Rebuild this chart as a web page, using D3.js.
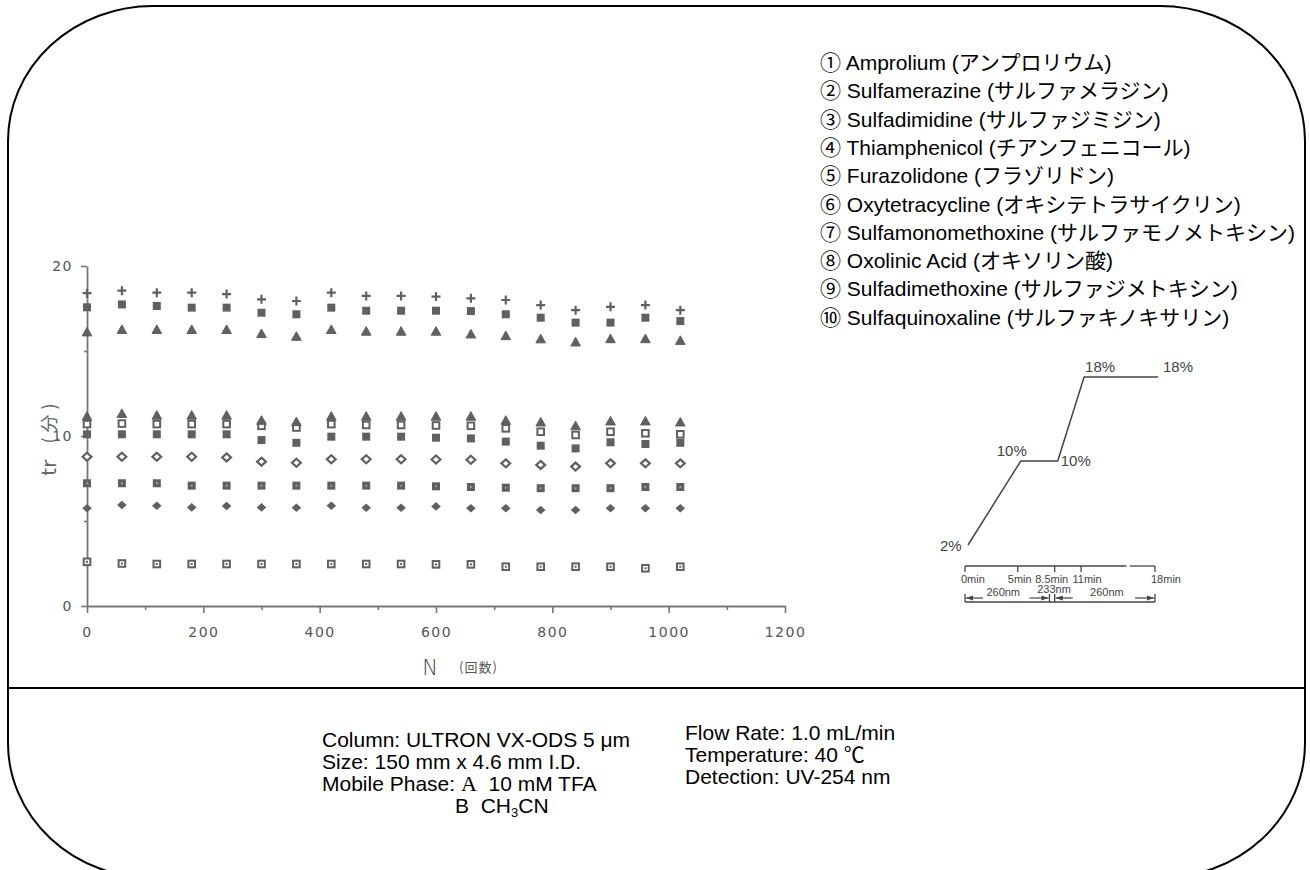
<!DOCTYPE html>
<html><head><meta charset="utf-8">
<script src="https://cdn.jsdelivr.net/npm/d3@7"></script>
<style>body{margin:0;background:#fff}</style>
</head><body>
<svg id="c" width="1310" height="870"></svg>
<script>
// ---------------- data ----------------
const runs = [0,60,120,180,240,300,360,420,480,540,600,660,720,780,840,900,960,1020];
const compounds = ["① Amprolium (アンプロリウム)","② Sulfamerazine (サルファメラジン)","③ Sulfadimidine (サルファジミジン)","④ Thiamphenicol (チアンフェニコール)","⑤ Furazolidone (フラゾリドン)","⑥ Oxytetracycline (オキシテトラサイクリン)","⑦ Sulfamonomethoxine (サルファモノメトキシン)","⑧ Oxolinic Acid (オキソリン酸)","⑨ Sulfadimethoxine (サルファジメトキシン)","⑩ Sulfaquinoxaline (サルファキノキサリン)"];
const amprolium        = [2.6,2.5,2.47,2.47,2.47,2.47,2.47,2.47,2.47,2.47,2.45,2.45,2.31,2.31,2.31,2.31,2.22,2.31];
const sulfamerazine    = [5.75,5.94,5.9,5.8,5.88,5.8,5.78,5.9,5.78,5.78,5.86,5.75,5.75,5.65,5.65,5.75,5.75,5.75];
const sulfadimidine    = [7.22,7.22,7.22,7.08,7.08,7.08,7.08,7.08,7.08,7.08,7.04,7.0,6.96,6.93,6.93,6.93,7.0,7.0];
const thiamphenicol    = [8.78,8.78,8.78,8.78,8.74,8.49,8.43,8.63,8.63,8.63,8.62,8.6,8.39,8.3,8.2,8.39,8.39,8.39];
const furazolidone     = [10.1,10.1,10.1,10.1,10.1,9.76,9.6,9.96,9.96,9.96,9.9,9.86,9.67,9.43,9.27,9.63,9.53,9.6];
const oxytetracycline  = [10.7,10.73,10.7,10.7,10.7,10.6,10.5,10.7,10.65,10.65,10.62,10.6,10.45,10.25,10.06,10.25,10.16,10.1];
const sulfamonometh    = [11.14,11.3,11.2,11.2,11.2,10.9,10.82,11.14,11.14,11.14,11.14,11.14,10.9,10.8,10.58,10.86,10.86,10.8];
const oxolinicAcid     = [16.1,16.24,16.24,16.24,16.24,16.0,15.84,16.24,16.14,16.14,16.14,15.98,15.88,15.69,15.51,15.7,15.7,15.6];
const sulfadimethoxine = [17.57,17.74,17.65,17.55,17.55,17.25,17.16,17.55,17.37,17.37,17.37,17.35,17.16,16.96,16.67,16.67,16.96,16.76];
const sulfaquinoxaline = [18.4,18.55,18.43,18.43,18.35,18.04,17.94,18.43,18.24,18.24,18.2,18.1,18.0,17.7,17.4,17.6,17.7,17.4];
const seriesValues = [amprolium,sulfamerazine,sulfadimidine,thiamphenicol,furazolidone,oxytetracycline,sulfamonometh,oxolinicAcid,sulfadimethoxine,sulfaquinoxaline];
const xTicks = [0,200,400,600,800,1000,1200];
const xMinor = [100,300,500,700,900,1100];
const yTicks = [0,10,20];
const yMinor = [5,15];
// gradient program
const gradTime = [0,5,8.5,11,18];
const gradPct  = [2,10,10,18,18];
const gradLabels = ["2%","10%","10%","18%","18%"];
const timeTicks = [0,5,8.5,11,18];
const timeLabels = ["0min","5min","8.5min","11min","18min"];
const waveSegments = [[0,8], [8.5,18]];
const waveLabels = ["260nm","233nm","260nm"];
const conditionsLeft = ["Column: ULTRON VX-ODS 5 μm","Size: 150 mm x 4.6 mm I.D."];
const conditionsRight = ["Flow Rate: 1.0 mL/min","Temperature: 40 ℃","Detection: UV-254 nm"];

// ---------------- drawing ----------------
const svg = d3.select("#c");
const INK = "#606060", AX = "#777";
const sans = "'Liberation Sans', Arial, 'Noto Sans CJK JP', sans-serif";

// frame
(function(){
  const x0=8,y0=6,x1=1305,y1=878,rx=145,ry=135;
  const p = `M${x0+rx},${y0}H${x1-rx}A${rx},${ry} 0 0 1 ${x1},${y0+ry}V${y1-ry}A${rx},${ry} 0 0 1 ${x1-rx},${y1}H${x0+rx}A${rx},${ry} 0 0 1 ${x0},${y1-ry}V${y0+ry}A${rx},${ry} 0 0 1 ${x0+rx},${y0}Z`;
  svg.append("path").attr("d",p).attr("fill","none").attr("stroke","#000").attr("stroke-width",2);
  svg.append("line").attr("x1",x0).attr("x2",x1).attr("y1",688).attr("y2",688).attr("stroke","#000").attr("stroke-width",2);
})();

const x = d3.scaleLinear().domain([0,1200]).range([87,785]);
const y = d3.scaleLinear().domain([0,20]).range([606,266]);

function styleAxis(g){
  g.selectAll("path.domain").attr("stroke",AX).attr("stroke-width",1.8);
  g.selectAll(".tick line").attr("stroke",AX).attr("stroke-width",1.6);
  g.selectAll(".tick text").attr("fill","#555").attr("font-family","'DejaVu Sans', sans-serif").attr("font-size",14).attr("letter-spacing",1.5);
}
const gx = svg.append("g").attr("transform","translate(0,606)")
  .call(d3.axisBottom(x).tickValues(xTicks).tickSize(7).tickSizeOuter(0).tickPadding(14).tickFormat(d3.format("d")));
styleAxis(gx);
const gxm = svg.append("g").attr("transform","translate(0,606)")
  .call(d3.axisBottom(x).tickValues(xMinor).tickSize(4).tickFormat(""));
gxm.select("path.domain").remove(); styleAxis(gxm);
const gy = svg.append("g").attr("transform","translate(87,0)")
  .call(d3.axisLeft(y).tickValues(yTicks).tickSize(6).tickSizeOuter(0).tickPadding(8));
styleAxis(gy);
const gym = svg.append("g").attr("transform","translate(87,0)")
  .call(d3.axisLeft(y).tickValues(yMinor).tickSize(3).tickFormat(""));
gym.select("path.domain").remove(); styleAxis(gym);

// axis titles
svg.append("text").attr("x",430).attr("y",675).attr("text-anchor","middle")
  .attr("font-family","'DejaVu Sans', sans-serif").attr("font-weight",300).attr("font-size",21).attr("fill","#444").text("N");
svg.append("text").attr("x",459).attr("y",672)
  .attr("font-family","'Noto Sans CJK JP', sans-serif").attr("font-size",13).attr("letter-spacing",1).attr("fill","#555").text("(回数)");
const yt = svg.append("text").attr("transform","translate(56,437) rotate(-90)").attr("text-anchor","middle")
  .attr("font-family","'DejaVu Sans', 'Noto Sans CJK JP', sans-serif").attr("fill","#666");
yt.append("tspan").attr("font-size",20).text("tr");
yt.append("tspan").attr("dx",16).attr("font-size",18).attr("font-family","'Noto Sans CJK JP', sans-serif").attr("letter-spacing",5).text("(分)");

// markers
const kinds = ["dotsquare","fdiamond","dsquare","odiamond","fsquare","osquare","ftri","ftri","fsquare","plus"];
function marker(g, kind){
  switch(kind){
    case "plus": g.append("path").attr("d","M-4.5,0H4.5M0,-4.5V4.5").attr("stroke",INK).attr("stroke-width",2.2).attr("fill","none"); break;
    case "fsquare": g.append("rect").attr("x",-4).attr("y",-4).attr("width",8).attr("height",8).attr("fill",INK); break;
    case "ftri": g.append("path").attr("d","M0,-5L4.8,3.6H-4.8Z").attr("fill",INK).attr("stroke",INK).attr("stroke-width",1); break;
    case "osquare": g.append("rect").attr("x",-3.3).attr("y",-3.3).attr("width",6.6).attr("height",6.6).attr("fill","#fff").attr("stroke",INK).attr("stroke-width",2); break;
    case "odiamond": g.append("path").attr("d","M0,-4L4.4,0L0,4L-4.4,0Z").attr("fill","#fff").attr("stroke",INK).attr("stroke-width",2.2); break;
    case "fdiamond": g.append("path").attr("d","M0,-4.3L4.8,0L0,4.3L-4.8,0Z").attr("fill",INK); break;
    case "dsquare":
      g.append("rect").attr("x",-4).attr("y",-4).attr("width",8).attr("height",8).attr("fill",INK);
      g.append("circle").attr("r",1).attr("fill","#aaa"); break;
    case "dotsquare":
      g.append("rect").attr("x",-3.3).attr("y",-3.3).attr("width",6.6).attr("height",6.6).attr("fill","#fff").attr("stroke",INK).attr("stroke-width",2);
      g.append("rect").attr("x",-1).attr("y",-1).attr("width",2).attr("height",2).attr("fill",INK); break;
  }
}
const plot = svg.append("g");
seriesValues.forEach((vals,i)=>{
  const sg = plot.append("g").attr("class","series-"+i);
  vals.forEach((v,j)=>{
    const m = sg.append("g").attr("transform",`translate(${x(runs[j])},${y(v)})`);
    marker(m, kinds[i]);
  });
});

// legend (compound list)
svg.append("g").selectAll("text").data(compounds).join("text")
  .attr("x",820).attr("y",(d,i)=>70+i*28.3)
  .attr("font-family",sans).attr("font-size",21).attr("fill","#000").text(d=>d);

// gradient inset
const tS = d3.scaleLinear().domain([0,18]).range([965,1155]);
const pS = d3.scaleLinear().domain([2,18]).range([545,377]);
const GI = "#444";
svg.append("path").attr("d", d3.line().x((d,i)=>tS(gradTime[i])+3).y(d=>pS(d))(gradPct))
  .attr("fill","none").attr("stroke",GI).attr("stroke-width",1.5);
const gl = [[-28,6],[-24,-5],[3,5],[1,-5],[5,-5]];
svg.append("g").selectAll("text").data(gradLabels).join("text")
  .attr("x",(d,i)=>tS(gradTime[i])+3+gl[i][0]).attr("y",(d,i)=>pS(gradPct[i])+gl[i][1])
  .attr("font-family",sans).attr("font-size",15).attr("fill",GI).text(d=>d);
// time axis
const ta = svg.append("g").attr("transform","translate(0,566)");
ta.append("line").attr("x1",tS(0)).attr("x2",tS(15.3)).attr("stroke",GI).attr("stroke-width",1.3);
ta.append("line").attr("x1",tS(15.6)).attr("x2",tS(18)).attr("stroke",GI).attr("stroke-width",1.3);
ta.selectAll("line.tk").data(timeTicks).join("line").attr("class","tk")
  .attr("x1",d=>tS(d)).attr("x2",d=>tS(d)).attr("y1",0).attr("y2",6).attr("stroke",GI).attr("stroke-width",1.3);
const tAnchor = ["start","middle","middle","middle","start"];
const tOff = [-4,2,-3,6,-4];
ta.selectAll("text").data(timeLabels).join("text")
  .attr("x",(d,i)=>tS(timeTicks[i])+tOff[i]).attr("y",17).attr("text-anchor",(d,i)=>tAnchor[i])
  .attr("font-family",sans).attr("font-size",11).attr("fill",GI).text(d=>d);
// wavelength brackets
const wa = svg.append("g");
wa.append("line").attr("x1",tS(0)).attr("x2",tS(18)).attr("y1",602).attr("y2",602).attr("stroke",GI).attr("stroke-width",1.3);
[0,8,8.5,18].forEach(t=>wa.append("line").attr("x1",tS(t)).attr("x2",tS(t)).attr("y1",594).attr("y2",602).attr("stroke",GI).attr("stroke-width",1.3));
function arrow(xa, xb){ // line from xa to xb with head at xb
  const dir = xb > xa ? 1 : -1;
  wa.append("line").attr("x1",xa).attr("x2",xb).attr("y1",598).attr("y2",598).attr("stroke",GI).attr("stroke-width",1.2);
  wa.append("path").attr("d",`M${xb},598L${xb-dir*7},595.5L${xb-dir*7},600.5Z`).attr("fill",GI);
}
waveSegments.forEach(([a,b])=>{
  arrow(tS(a)+18, tS(a)+1);
  arrow(tS(b)-20, tS(b)-1);
});
const wx = [(tS(0)+tS(8))/2-4, (tS(8)+tS(8.5))/2+2, (tS(8.5)+tS(18))/2+2];
const wy = [596, 593, 596];
wa.selectAll("text").data(waveLabels).join("text")
  .attr("x",(d,i)=>wx[i]).attr("y",(d,i)=>wy[i]).attr("text-anchor","middle")
  .attr("font-family",sans).attr("font-size",11).attr("fill",GI).text(d=>d);

// conditions text
const cf = {family: sans, size: 21};
svg.append("g").selectAll("text").data(conditionsLeft).join("text")
  .attr("x",322).attr("y",(d,i)=>747+i*22).attr("font-family",cf.family).attr("font-size",cf.size).text(d=>d);
const mp = svg.append("text").attr("x",322).attr("y",791).attr("font-family",cf.family).attr("font-size",cf.size);
mp.append("tspan").text("Mobile Phase: ");
mp.append("tspan").attr("font-family","'Liberation Serif', 'Times New Roman', serif").attr("font-size",22).text("A");
mp.append("tspan").text("\u00a0\u00a010 mM TFA");
const bp = svg.append("text").attr("x",455).attr("y",813).attr("font-family",cf.family).attr("font-size",cf.size);
bp.append("tspan").text("B\u00a0\u00a0CH");
bp.append("tspan").attr("font-size",13).attr("dy",4).text("3");
bp.append("tspan").attr("dy",-4).text("CN");
svg.append("g").selectAll("text").data(conditionsRight).join("text")
  .attr("x",685).attr("y",(d,i)=>740+i*22).attr("font-family",cf.family).attr("font-size",cf.size).text(d=>d);
</script>
</body></html>
